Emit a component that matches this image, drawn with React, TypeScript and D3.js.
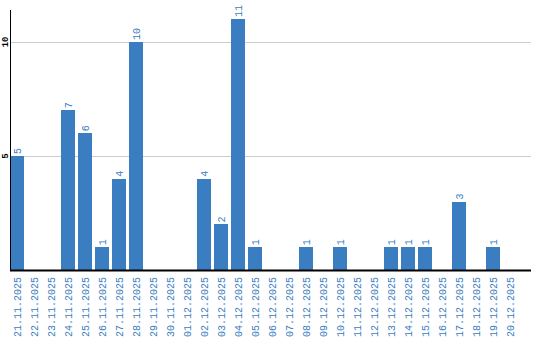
import React from "react";
import * as d3 from "d3";

const categories: string[] = [
  "21.11.2025", "22.11.2025", "23.11.2025", "24.11.2025", "25.11.2025",
  "26.11.2025", "27.11.2025", "28.11.2025", "29.11.2025", "30.11.2025",
  "01.12.2025", "02.12.2025", "03.12.2025", "04.12.2025", "05.12.2025",
  "06.12.2025", "07.12.2025", "08.12.2025", "09.12.2025", "10.12.2025",
  "11.12.2025", "12.12.2025", "13.12.2025", "14.12.2025", "15.12.2025",
  "16.12.2025", "17.12.2025", "18.12.2025", "19.12.2025", "20.12.2025",
];
const values: number[] = [
  5, 0, 0, 7, 6, 1, 4, 10, 0, 0,
  0, 4, 2, 11, 1, 0, 0, 1, 0, 1,
  0, 0, 1, 1, 1, 0, 3, 0, 1, 0,
];
const yTicks: number[] = [5, 10];

const W = 540;
const H = 340;
const BAR = "#3a7dc1";
const FONT = "'Liberation Mono', 'DejaVu Sans Mono', monospace";

export default function App() {
  const x = d3
    .scaleBand<string>()
    .domain(categories)
    .range([8.5, 518.5])
    .paddingInner(3 / 17)
    .paddingOuter(3 / 34);
  const y = d3.scaleLinear().domain([0, 11.4]).range([270, 10]);
  const left = 10;
  const right = 531;
  const bw = x.bandwidth();

  return (
    <svg
      width={W}
      height={H}
      style={{ position: "absolute", left: 0, top: 0, background: "#fff" }}
    >
      {yTicks.map((t) => (
        <line
          key={"g" + t}
          x1={left}
          x2={right}
          y1={Math.round(y(t)) + 0.5}
          y2={Math.round(y(t)) + 0.5}
          stroke="#cccccc"
          strokeWidth={1}
        />
      ))}
      {categories.map((c, i) =>
        values[i] > 0 ? (
          <rect
            key={"b" + c}
            x={x(c)!}
            y={y(values[i])}
            width={bw}
            height={y(0) - y(values[i])}
            fill={BAR}
            shapeRendering="crispEdges"
          />
        ) : null
      )}
      {categories.map((c, i) => {
        if (values[i] <= 0) return null;
        const cx = x(c)! + bw / 2;
        const ty = y(values[i]) - 2;
        return (
          <text
            key={"v" + c}
            transform={`translate(${cx},${ty}) rotate(-90)`}
            dy="0.35em"
            textAnchor="start"
            fontFamily={FONT}
            fontSize={10}
            fill={BAR}
          >
            {values[i]}
          </text>
        );
      })}
      {categories.map((c) => {
        const cx = x(c)! + bw / 2;
        return (
          <text
            key={"l" + c}
            transform={`translate(${cx},277) rotate(-90)`}
            dy="0.35em"
            textAnchor="end"
            fontFamily={FONT}
            fontSize={10}
            fill={BAR}
          >
            {c}
          </text>
        );
      })}
      <line x1={left + 0.5} x2={left + 0.5} y1={10} y2={270} stroke="#000" strokeWidth={1} />
      <line x1={left} x2={right} y1={270.5} y2={270.5} stroke="#000" strokeWidth={2} />
      {yTicks.map((t) => (
        <text
          key={"t" + t}
          transform={`translate(4.5,${y(t)}) rotate(-90)`}
          dy="0.35em"
          textAnchor="middle"
          fontFamily={FONT}
          fontSize={9}
          fontWeight="bold"
          fill="#000"
        >
          {t}
        </text>
      ))}
    </svg>
  );
}
